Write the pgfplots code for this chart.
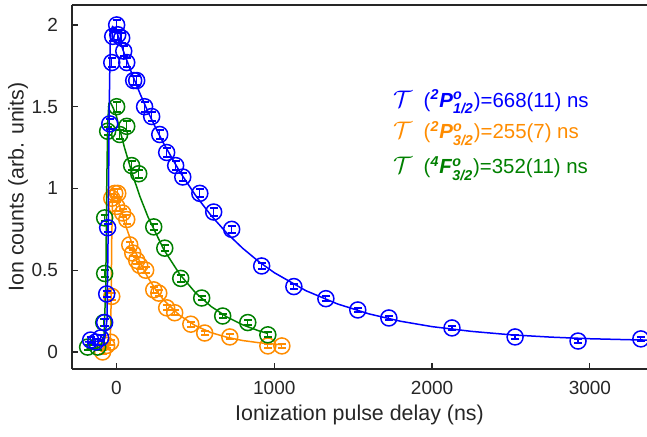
\documentclass[border=0pt]{standalone}
\usepackage{amsmath}
\usepackage{pgfplots}
\pgfplotsset{compat=1.18}
\usepackage{pgfplotstable}
\usepackage{fontspec}
\setmainfont{Liberation Sans}
\definecolor{cblue}{RGB}{0,0,255}
\definecolor{corange}{RGB}{255,140,0}
\definecolor{cgreen}{RGB}{0,128,0}
\definecolor{axgray}{RGB}{38,38,38}

\pgfplotstableread{
t v e
-164 0.073 0.02
-132 0.061 0.02
-100 0.086 0.02
-75 0.18 0.02
-62 0.355 0.02
-56 0.76 0.025
-43 1.395 0.03
-30 1.77 0.03
-24 1.93 0.03
1 2.00 0.03
8 1.94 0.03
33 1.92 0.03
46 1.84 0.03
65 1.77 0.03
109 1.66 0.03
128 1.66 0.03
178 1.50 0.03
223 1.44 0.03
274 1.33 0.03
318 1.22 0.03
375 1.14 0.03
420 1.07 0.025
528 0.97 0.025
616 0.856 0.025
730 0.75 0.02
920 0.526 0.02
1124 0.40 0.015
1327 0.326 0.015
1529 0.257 0.015
1726 0.208 0.015
2126 0.147 0.012
2526 0.092 0.012
2925 0.067 0.012
3323 0.08 0.012
}\bluedata

\pgfplotstableread{
t v e
-88 0.00 0.015
-62 0.04 0.015
-37 0.06 0.015
-30 0.34 0.02
-30 0.94 0.025
-11 0.97 0.025
8 0.97 0.025
1 0.89 0.025
39 0.85 0.025
65 0.81 0.025
84 0.655 0.02
103 0.605 0.02
128 0.56 0.02
147 0.53 0.02
185 0.50 0.02
236 0.38 0.02
268 0.36 0.02
318 0.27 0.015
369 0.24 0.015
471 0.17 0.015
559 0.116 0.015
718 0.092 0.015
959 0.037 0.01
1048 0.037 0.01
}\orangedata

\pgfplotstableread{
t v e
-183 0.03 0.015
-119 0.03 0.015
-81 0.18 0.02
-75 0.48 0.02
-75 0.82 0.02
-56 1.35 0.025
1 1.50 0.03
20 1.33 0.03
65 1.38 0.03
96 1.14 0.025
141 1.09 0.025
236 0.765 0.02
306 0.635 0.02
407 0.45 0.02
540 0.33 0.015
673 0.22 0.015
832 0.18 0.015
959 0.105 0.015
}\greendata

\pgfplotstableread{
t v
-200 0.062
-120 0.065
-75 0.08
-60 0.2
-52 0.8
-46 1.5
-40 1.88
-33 1.97
-25 1.99
-12 1.98
0 1.96
50 1.823
100 1.696
150 1.578
200 1.468
250 1.367
300 1.273
400 1.104
500 0.959
600 0.834
700 0.726
800 0.634
900 0.554
1000 0.485
1200 0.375
1400 0.294
1600 0.233
1800 0.188
2000 0.155
2250 0.126
2500 0.105
2750 0.091
3000 0.081
3250 0.075
3400 0.072
}\bluefit

\pgfplotstableread{
t v
-110 0.02
-60 0.025
-40 0.05
-34 0.3
-30 0.7
-25 0.93
-15 0.98
0 0.96
50 0.795
100 0.658
150 0.546
200 0.454
250 0.379
300 0.317
400 0.224
500 0.161
600 0.118
700 0.090
800 0.070
900 0.057
1000 0.048
1045 0.045
}\orangefit

\pgfplotstableread{
t v
-190 0.02
-110 0.025
-80 0.08
-68 0.4
-62 1.0
-56 1.4
-48 1.52
-35 1.52
-20 1.49
0 1.44
50 1.252
100 1.089
150 0.947
200 0.825
300 0.626
400 0.476
500 0.363
600 0.278
700 0.214
800 0.166
900 0.130
960 0.113
}\greenfit

\newcommand{\tauglyph}{{\fontsize{12}{12}\selectfont$\mathcal{T}$}}

\begin{document}
\begin{tikzpicture}[font=\fontsize{9.5}{11}\selectfont]
\begin{axis}[
  scale only axis, width=287.5pt, height=182pt,
  xmin=-282, xmax=3362, ymin=-0.104, ymax=2.122,
  axis x line*=box, axis y line*=left,
  axis line style={-, axgray, line width=0.6pt},
  xtick={0,1000,2000,3000}, xticklabels={0,1000,2000,3000},
  ytick={0,0.5,1,1.5,2}, yticklabels={0,0.5,1,1.5,2},
  xtick pos=left, ytick pos=left,
  tick align=inside, major tick length=3pt,
  tick style={axgray, line width=0.6pt},
  /pgf/number format/assume math mode=true,
  ticklabel style={text=axgray, font=\fontsize{9.5}{11}\selectfont},
  yticklabel style={xshift=-3.5pt},
  xticklabel style={yshift=-2.5pt},
  xlabel={Ionization pulse delay (ns)},
  ylabel={Ion counts (arb. units)},
  every axis x label/.style={at={(axis description cs:0.5,0)}, yshift=-23pt, anchor=center, text=axgray, font=\fontsize{10.7}{12}\selectfont},
  every axis y label/.style={at={(axis description cs:0,0.5)}, xshift=-27pt, rotate=90, anchor=center, text=axgray, font=\fontsize{10.7}{12}\selectfont},
  clip mode=individual,
  error bars/error mark=|,
]
% orange
\addplot[corange, line width=0.75pt] table[x=t,y=v]{\orangefit};
\addplot[corange, only marks, mark=o, mark size=4pt, mark options={line width=0.75pt},
  error bars/.cd, y dir=both, y explicit, error mark=|, error bar style={line width=0.6pt}, error mark options={mark size=2pt, line width=1pt}]
  table[x=t,y=v,y error=e]{\orangedata};
% green
\addplot[cgreen, line width=0.75pt] table[x=t,y=v]{\greenfit};
\addplot[cgreen, only marks, mark=o, mark size=4pt, mark options={line width=0.75pt},
  error bars/.cd, y dir=both, y explicit, error mark=|, error bar style={line width=0.6pt}, error mark options={mark size=2pt, line width=1pt}]
  table[x=t,y=v,y error=e]{\greendata};
% blue
\addplot[cblue, line width=0.75pt] table[x=t,y=v]{\bluefit};
\addplot[cblue, only marks, mark=o, mark size=4pt, mark options={line width=0.75pt},
  error bars/.cd, y dir=both, y explicit, error mark=|, error bar style={line width=0.6pt}, error mark options={mark size=2pt, line width=1pt}]
  table[x=t,y=v,y error=e]{\bluedata};

\node[anchor=base west, text=cblue, font=\fontsize{10.2}{12}\selectfont, inner sep=0pt] at (axis cs:1751,1.498)
  {\tauglyph\ \ (\textsuperscript{\textbf{\textit{2}}}\textbf{\textit{P}}$^{\text{\textbf{\textit{o}}}}_{\text{\textbf{\textit{1/2}}}}$)=668(11) ns};
\node[anchor=base west, text=corange, font=\fontsize{10.2}{12}\selectfont, inner sep=0pt] at (axis cs:1751,1.303)
  {\tauglyph\ \ (\textsuperscript{\textbf{\textit{2}}}\textbf{\textit{P}}$^{\text{\textbf{\textit{o}}}}_{\text{\textbf{\textit{3/2}}}}$)=255(7) ns};
\node[anchor=base west, text=cgreen, font=\fontsize{10.2}{12}\selectfont, inner sep=0pt] at (axis cs:1751,1.089)
  {\tauglyph\ \ (\textsuperscript{\textbf{\textit{4}}}\textbf{\textit{F}}$^{\text{\textbf{\textit{o}}}}_{\text{\textbf{\textit{3/2}}}}$)=352(11) ns};
\end{axis}
\pgfresetboundingbox
\path[use as bounding box] ([xshift=-36pt,yshift=-34pt]current axis.south west) rectangle ([yshift=2.5pt]current axis.north east);
\end{tikzpicture}
\end{document}
